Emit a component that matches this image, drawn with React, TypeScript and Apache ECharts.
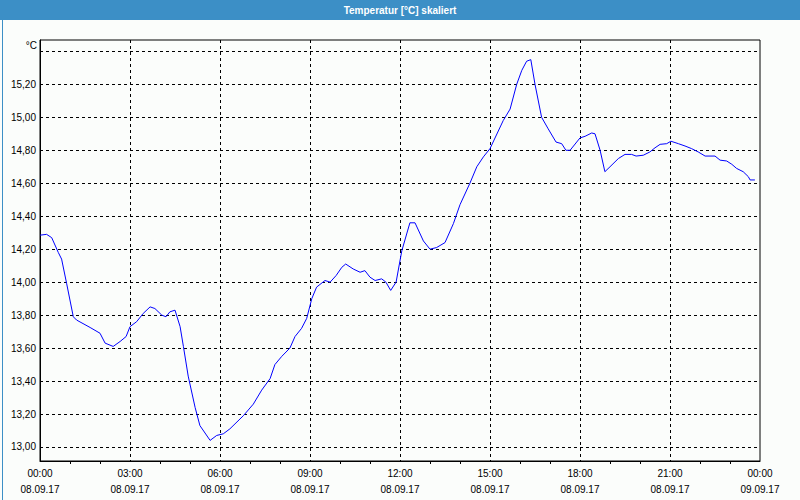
import React, { useEffect, useRef } from "react";
import * as echarts from "echarts";

const hours = [
  0.0, 0.22, 0.39, 0.61, 0.72, 0.89, 1.11, 1.22, 1.67, 2.0, 2.17, 2.44, 2.67, 2.87, 3.0, 3.22, 3.44, 3.67,
  3.83, 4.06, 4.2, 4.33, 4.5, 4.67, 4.78, 4.94, 5.17, 5.33, 5.67, 5.89, 6.11, 6.33, 6.78, 7.11, 7.39, 7.67,
  7.83, 8.06, 8.33, 8.5, 8.72, 8.89, 9.06, 9.22, 9.5, 9.67, 9.87, 10.06, 10.19, 10.44, 10.67, 10.83, 11.0,
  11.17, 11.39, 11.53, 11.69, 11.87, 12.06, 12.33, 12.5, 12.78, 13.0, 13.22, 13.5, 13.78, 14.0, 14.33, 14.56,
  14.78, 15.0, 15.44, 15.67, 15.89, 16.06, 16.22, 16.36, 16.5, 16.72, 16.94, 17.2, 17.39, 17.53, 17.67, 18.0,
  18.17, 18.39, 18.5, 18.67, 18.83, 19.0, 19.28, 19.5, 19.72, 19.87, 20.11, 20.33, 20.5, 20.67, 20.89, 21.03,
  21.28, 21.5, 21.72, 21.94, 22.17, 22.5, 22.67, 22.89, 23.06, 23.22, 23.44, 23.61, 23.67, 23.83,
];

const temps = [
  14.285, 14.29, 14.27, 14.18, 14.14, 13.99, 13.79, 13.77, 13.725, 13.69, 13.63, 13.61, 13.64, 13.67, 13.73,
  13.76, 13.81, 13.85, 13.84, 13.8, 13.79, 13.82, 13.83, 13.73, 13.61, 13.43, 13.24, 13.13, 13.04, 13.07,
  13.08, 13.11, 13.19, 13.26, 13.345, 13.415, 13.5, 13.55, 13.6, 13.67, 13.72, 13.78, 13.9, 13.97, 14.01, 14.0,
  14.04, 14.09, 14.11, 14.08, 14.06, 14.07, 14.03, 14.01, 14.02, 14.0, 13.95, 14.0, 14.19, 14.36, 14.36, 14.25,
  14.2, 14.21, 14.24, 14.355, 14.47, 14.6, 14.7, 14.76, 14.81, 14.98, 15.05, 15.2, 15.285, 15.34, 15.35, 15.2,
  15.0, 14.93, 14.85, 14.84, 14.8, 14.8, 14.875, 14.885, 14.905, 14.9, 14.8, 14.67, 14.7, 14.75, 14.775, 14.775,
  14.765, 14.77, 14.79, 14.815, 14.836, 14.84, 14.855, 14.84, 14.826, 14.81, 14.79, 14.765, 14.765, 14.74,
  14.735, 14.715, 14.69, 14.67, 14.64, 14.62, 14.62,
];

const yTickValues = [13.0, 13.2, 13.4, 13.6, 13.8, 14.0, 14.2, 14.4, 14.6, 14.8, 15.0, 15.2];
const yGridValues = [13.0, 13.2, 13.4, 13.6, 13.8, 14.0, 14.2, 14.4, 14.6, 14.8, 15.0, 15.2, 15.4];
const startDate = "08.09.17";
const endDate = "09.09.17";
const title = "Temperatur [°C] skaliert";
const unit = "°C";

const BG = "#fbfdfb";
const BLUE_BAR = "#3c8fc6";
const FONT = "Liberation Sans";

export default function App() {
  const ref = useRef<HTMLDivElement>(null);

  useEffect(() => {
    if (!ref.current) return;
    const chart = echarts.init(ref.current, undefined, { renderer: "svg" });
    const data = hours.map((h, i) => [h, temps[i]]);

    chart.setOption({
      animation: false,
      backgroundColor: BG,
      grid: {
        left: 40,
        right: 40,
        top: 40,
        bottom: 39,
        show: true,
        borderColor: "#000",
        borderWidth: 1,
        backgroundColor: BG,
      },
      graphic: [
        {
          type: "rect",
          left: 0,
          top: 0,
          shape: { width: 800, height: 20 },
          style: { fill: BLUE_BAR },
          silent: true,
        },
        {
          type: "rect",
          left: 0,
          top: 0,
          shape: { x: 0.5, y: 0.5, width: 799, height: 499 },
          style: { fill: "none", stroke: BLUE_BAR, lineWidth: 1 },
          silent: true,
        },
        {
          type: "text",
          x: 400,
          y: 10,
          style: {
            text: title,
            fill: "#fff",
            font: `bold 10px "${FONT}"`,
            textAlign: "center",
            textVerticalAlign: "middle",
          },
        },
        {
          type: "text",
          x: 37,
          y: 45,
          style: {
            text: unit,
            fill: "#000",
            font: `10px "${FONT}"`,
            textAlign: "right",
            textVerticalAlign: "middle",
          },
        },
      ],
      xAxis: {
        type: "value",
        min: 0,
        max: 24,
        interval: 3,
        axisLine: { show: true, onZero: false, lineStyle: { color: "#000", width: 1 } },
        axisTick: { show: false },
        minorTick: { show: true, splitNumber: 3, length: 3, lineStyle: { color: "#000", width: 1 } },
        minorSplitLine: { show: false },
        splitLine: {
          show: true,
          showMinLine: false,
          showMaxLine: false,
          lineStyle: { color: "#000", type: [3, 3], width: 1 },
        },
        axisLabel: {
          margin: 4,
          color: "#000",
          fontFamily: FONT,
          fontSize: 10,
          lineHeight: 16,
          formatter: (v: number) => {
            const h = Math.round(v) % 24;
            const hh = (h < 10 ? "0" : "") + h + ":00";
            return hh + "\n" + (v >= 24 ? endDate : startDate);
          },
        },
      },
      yAxis: {
        type: "value",
        min: 12.915,
        max: 15.469,
        axisLine: { show: true, lineStyle: { color: "#000", width: 1 } },
        axisTick: { show: false },
        splitLine: { show: false },
        axisLabel: {
          customValues: yTickValues,
          margin: 4,
          color: "#000",
          fontFamily: FONT,
          fontSize: 10,
          formatter: (v: number) => v.toFixed(2).replace(".", ","),
        },
      },
      series: [
        {
          type: "line",
          data,
          showSymbol: false,
          symbol: "none",
          lineStyle: { color: "#0000ff", width: 1 },
          z: 5,
          markLine: {
            silent: true,
            symbol: "none",
            label: { show: false },
            lineStyle: { color: "#000", type: [3, 3], width: 1 },
            z: 1,
            data: yGridValues.map((v) => ({ yAxis: v })),
          },
        },
      ],
    });

    return () => chart.dispose();
  }, []);

  return (
    <div
      ref={ref}
      style={{ position: "fixed", left: 0, top: 0, width: 800, height: 500 }}
    />
  );
}
